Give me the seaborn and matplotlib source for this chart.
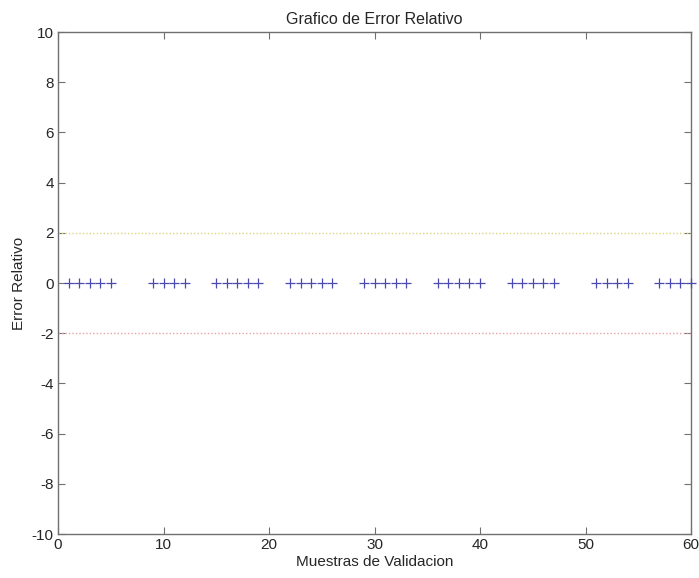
import matplotlib
matplotlib.use("Agg")
import matplotlib.pyplot as plt
import seaborn as sns
import pandas as pd

# Data
muestras = [1, 2, 3, 4, 5, 9, 10, 11, 12, 15, 16, 17, 18, 19,
            22, 23, 24, 25, 26, 29, 30, 31, 32, 33, 36, 37, 38, 39, 40,
            43, 44, 45, 46, 47, 51, 52, 53, 54, 57, 58, 59, 60]
error_relativo = [0] * len(muestras)
limite_superior = 2
limite_inferior = -2
x_ticks = [0, 10, 20, 30, 40, 50, 60]
y_ticks = [-10, -8, -6, -4, -2, 0, 2, 4, 6, 8, 10]

sns.set_style("white")
plt.rcParams['font.family'] = ['Liberation Sans', 'DejaVu Sans']
plt.rcParams['axes.unicode_minus'] = False

fig = plt.figure(figsize=(6.99, 5.78), dpi=100)
ax = fig.add_axes([0.083, 0.0761, 0.9056, 0.8685])

df = pd.DataFrame({"Muestra": muestras, "Error": error_relativo})
sns.scatterplot(data=df, x="Muestra", y="Error", marker="+", color="#4a4ab0",
                s=45, linewidth=0.9, ax=ax, zorder=3, clip_on=False)

ax.axhline(limite_superior, color="#d6d680", linestyle=(0, (1, 1.5)), linewidth=1.0)
ax.axhline(limite_inferior, color="#e8a0a8", linestyle=(0, (1, 1.5)), linewidth=1.0)

ax.set_xlim(0, 60)
ax.set_ylim(-10, 10)
ax.set_xticks(x_ticks)
ax.set_yticks(y_ticks)
ax.set_xlabel("Muestras de Validacion", fontsize=11, labelpad=2)
ax.set_ylabel("Error Relativo", fontsize=11, labelpad=4)
ax.set_title("Grafico de Error Relativo", fontsize=11.5, pad=6)

for sp in ax.spines.values():
    sp.set_visible(True)
    sp.set_color("#707070")
    sp.set_linewidth(1.0)

ax.tick_params(axis="both", which="both", direction="in", length=5, width=0.8,
               color="#707070", labelsize=11, top=True, right=True,
               bottom=True, left=True, pad=3)

fig.savefig("out.png", dpi=100, facecolor="white")
